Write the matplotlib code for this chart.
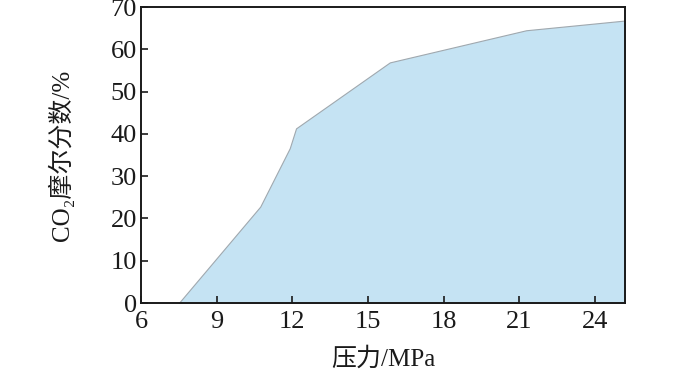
import matplotlib
matplotlib.use('Agg')
import matplotlib.pyplot as plt

pressure = [7.5, 10.73, 11.9, 12.15, 15.87, 21.28, 25.2]
co2_frac = [0, 22.8, 36.6, 41.3, 56.9, 64.5, 66.8]
xticks = [6, 9, 12, 15, 18, 21, 24]
yticks = [0, 10, 20, 30, 40, 50, 60, 70]

plt.rcParams['font.family'] = ['Liberation Serif', 'Noto Sans CJK SC', 'DejaVu Serif']

fig = plt.figure(figsize=(7, 3.84), dpi=100)
ax = fig.add_axes([141 / 700, 1 - 303 / 384, 484 / 700, 296 / 384])

ax.fill_between(pressure, co2_frac, 0, facecolor='#c5e3f3', edgecolor='#a0a8ae', linewidth=0.8)

ax.set_xlim(6, 25.2)
ax.set_ylim(0, 70)
ax.set_xticks(xticks)
ax.set_yticks(yticks)
ax.tick_params(direction='in', length=5, width=1.2, labelsize=19, colors='#1a1a1a')
ax.tick_params(axis='y', pad=3)
ax.tick_params(axis='x', pad=6)
for s in ax.spines.values():
    s.set_linewidth(1.4)
    s.set_color('#1a1a1a')

ax.set_xlabel('压力/MPa', fontsize=18, labelpad=10, color='#1a1a1a')
ax.set_ylabel('CO₂摩尔分数/%', fontsize=18, labelpad=26, color='#1a1a1a')

fig.savefig('out.png', dpi=100)
